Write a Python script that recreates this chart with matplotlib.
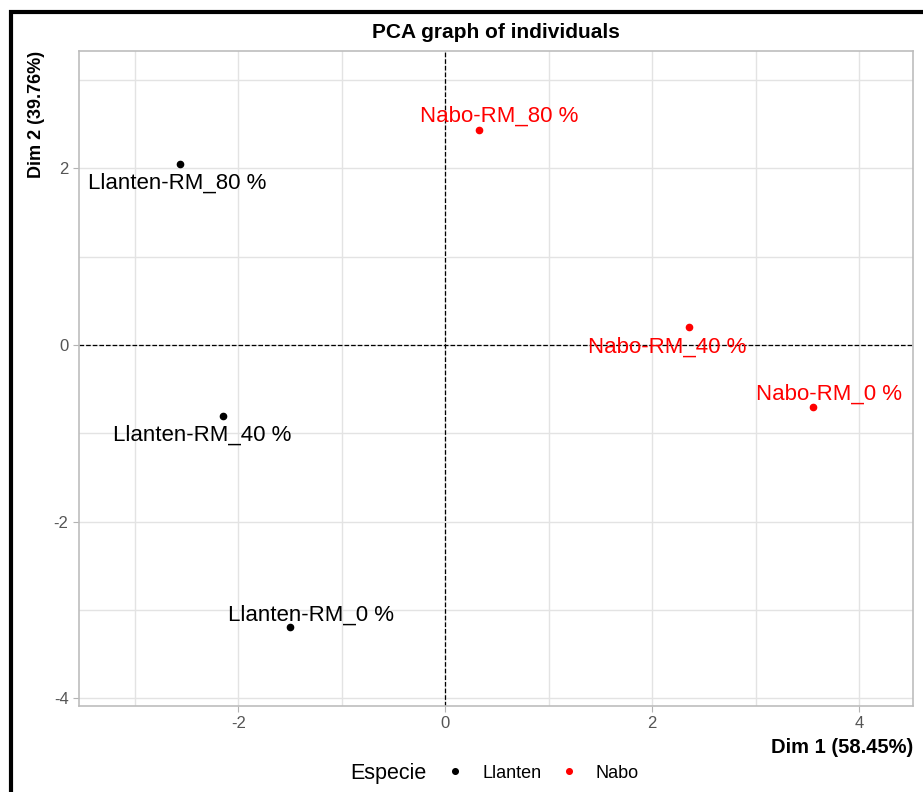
import matplotlib.pyplot as plt
from matplotlib.patches import Rectangle

plt.rcParams["font.family"] = ["Liberation Sans", "DejaVu Sans"]
plt.rcParams["axes.unicode_minus"] = False

# PCA coordinates of the individuals
names = ["Llanten-RM_80 %", "Llanten-RM_40 %", "Llanten-RM_0 %",
         "Nabo-RM_80 %", "Nabo-RM_40 %", "Nabo-RM_0 %"]
dim1 = [-2.56, -2.15, -1.50, 0.33, 2.36, 3.55]
dim2 = [2.05, -0.80, -3.19, 2.43, 0.20, -0.70]
especie = ["Llanten", "Llanten", "Llanten", "Nabo", "Nabo", "Nabo"]
groups = ["Llanten", "Nabo"]
colors = {"Llanten": "black", "Nabo": "#FF0000"}

# repelled label offsets (points)
label_dx = [-2, -15, 15, 14, -16, 12]
label_dy = [-14, -14, 8, 10, -14, 9]

fig = plt.figure(figsize=(9.23, 7.92), dpi=100)
ax = fig.add_axes([79 / 923, 86 / 792, 834 / 923, 655 / 792])

for g in groups:
    xs = [x for x, e in zip(dim1, especie) if e == g]
    ys = [y for y, e in zip(dim2, especie) if e == g]
    ax.plot(xs, ys, "o", color=colors[g], markersize=4.5, label=g, zorder=3)

for n, x, y, e, dx, dy in zip(names, dim1, dim2, especie, label_dx, label_dy):
    ax.annotate(n, (x, y), xytext=(dx, dy), textcoords="offset points",
                ha="center", va="center", color=colors[e], fontsize=16, zorder=4)

ax.axhline(0, color="black", linestyle="--", linewidth=0.9, zorder=2)
ax.axvline(0, color="black", linestyle="--", linewidth=0.9, zorder=2)

ax.set_xlim(-3.54, 4.52)
ax.set_ylim(-4.09, 3.33)
ax.set_xticks([-2, 0, 2, 4])
ax.set_yticks([-4, -2, 0, 2])
ax.set_xticks([-3, -1, 1, 3], minor=True)
ax.set_yticks([-3, -1, 1, 3], minor=True)
ax.grid(True, which="both", color="#E3E3E3", linewidth=1.0, zorder=0)
ax.set_axisbelow(True)
ax.tick_params(which="major", colors="#B3B3B3", labelcolor="#555555",
               labelsize=12, length=4, width=0.8)
ax.tick_params(which="minor", length=0)
for s in ax.spines.values():
    s.set_color("#BDBDBD")
    s.set_linewidth(1.2)

ax.set_title("PCA graph of individuals", fontsize=15, fontweight="bold", pad=9)
ax.set_xlabel("Dim 1 (58.45%)", fontsize=14.5, fontweight="bold", loc="right", labelpad=5)
ax.set_ylabel("Dim 2 (39.76%)", fontsize=13, fontweight="bold", loc="top", labelpad=6)

fig.text(350 / 923, 1 - 773 / 792, "Especie", fontsize=15.5, va="center", ha="left")
fig.legend(loc="center left", bbox_to_anchor=(432 / 923, 1 - 773 / 792), ncol=2,
           frameon=False, fontsize=13, handlelength=0.8, handletextpad=1.1,
           columnspacing=1.1, markerscale=0.9)

# screenshot frame around the figure
fig.patches.append(Rectangle((11 / 923, -0.1), 2, 1.1 - 12 / 792, transform=fig.transFigure,
                             fill=False, edgecolor="black", linewidth=3, clip_on=False))

fig.savefig("out.png", dpi=100)
